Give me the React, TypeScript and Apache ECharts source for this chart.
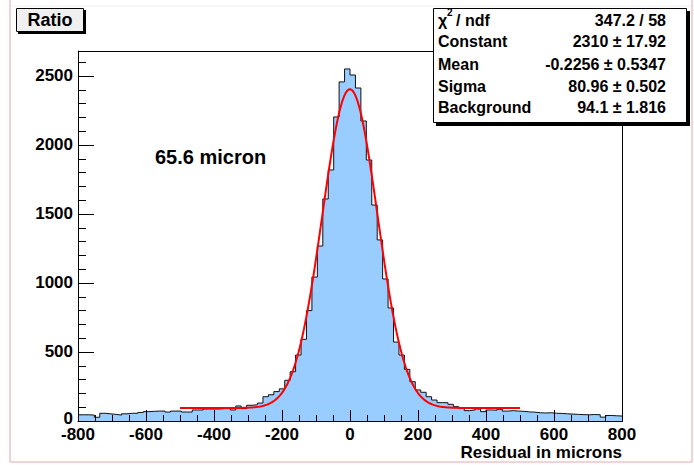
import React, { useEffect, useRef } from "react";
import * as echarts from "echarts";

// Histogram: 100 bins of width 16 from -800 to 800
const X_MIN = -800;
const X_MAX = 800;
const BIN_WIDTH = 16;
const counts: number[] = [
  45, 45, 43, 27, 56, 52, 48, 43, 52, 56,
  56, 62, 68, 70, 72, 72, 65, 72, 72, 65,
  65, 80, 80, 87, 87, 87, 90, 90, 80, 109,
  90, 114, 118, 130, 176, 190, 213, 233, 295, 357,
  478, 592, 800, 1043, 1268, 1609, 1819, 2203, 2457, 2551,
  2507, 2413, 2174, 1891, 1565, 1312, 1029, 819, 572, 478,
  374, 285, 225, 208, 176, 152, 133, 133, 121, 104,
  92, 75, 80, 87, 68, 80, 78, 85, 72, 75,
  72, 70, 66, 64, 60, 58, 60, 56, 55, 52,
  50, 48, 46, 45, 47, 45, 28, 40, 38, 36,
];

// Fit (gaus + pol0) parameters shown in the stat box, fit range
const FIT_CONSTANT = 2310;
const FIT_MEAN = -0.2256;
const FIT_SIGMA = 80.96;
const FIT_BACKGROUND = 94.1;
const FIT_RANGE = [-500, 500];

const xTicks = [-800, -600, -400, -200, 0, 200, 400, 600, 800];
const yTicks = [0, 500, 1000, 1500, 2000, 2500];
const Y_MAX = 2681;

const statNames = ["Constant", "Mean", "Sigma", "Background"];
const statValues = ["2310 ± 17.92", "-0.2256 ± 0.5347", "80.96 ± 0.502", "94.1 ± 1.816"];
const chiText = "347.2 / 58";

const FONT = "'Liberation Sans', Arial, Helvetica, sans-serif";

export default function App() {
  const ref = useRef<HTMLDivElement>(null);
  useEffect(() => {
    if (!ref.current) return;
    const chart = echarts.init(ref.current, undefined, { renderer: "svg" });

    const histData: number[][] = counts.map((c, i) => [X_MIN + i * BIN_WIDTH, c]);
    histData.push([X_MAX, counts[counts.length - 1]]);

    const fitData: number[][] = [];
    for (let x = FIT_RANGE[0]; x <= FIT_RANGE[1]; x += 4) {
      const z = (x - FIT_MEAN) / FIT_SIGMA;
      fitData.push([x, FIT_CONSTANT * Math.exp(-0.5 * z * z) + FIT_BACKGROUND]);
    }

    const rowY = [41, 64, 86, 107];
    const statGraphics: any[] = [];
    statNames.forEach((n, i) => {
      statGraphics.push({
        type: "text", x: 438, y: rowY[i], z: 30,
        style: { text: n, font: `bold 16px ${FONT}`, fill: "#000", textAlign: "left", textVerticalAlign: "middle" },
      });
      statGraphics.push({
        type: "text", x: 666, y: rowY[i], z: 30,
        style: { text: statValues[i], font: `bold 16px ${FONT}`, fill: "#000", textAlign: "right", textVerticalAlign: "middle" },
      });
    });

    const option: any = {
      animation: false,
      backgroundColor: "#fff",
      grid: { left: 78, top: 51, width: 544, height: 370, show: false },
      xAxis: {
        type: "value", min: X_MIN, max: X_MAX, interval: 200, z: 5,
        axisLine: { show: true, onZero: false, lineStyle: { color: "#000", width: 1 } },
        axisTick: { show: true, inside: true, length: 11, lineStyle: { color: "#000", width: 1 } },
        minorTick: { show: true, splitNumber: 4, length: 6, lineStyle: { color: "#000", width: 1 } },
        splitLine: { show: false },
        axisLabel: {
          margin: 7, color: "#000", fontFamily: FONT, fontWeight: "bold", fontSize: 17, lineHeight: 12,
          formatter: (v: number) => (xTicks.indexOf(v) >= 0 ? String(v) : ""),
        },
      },
      yAxis: [
        {
          type: "value", min: 0, max: Y_MAX, interval: 500, z: 5,
          axisLine: { show: true, onZero: false, lineStyle: { color: "#000", width: 1 } },
          axisTick: { show: true, inside: true, length: 16, lineStyle: { color: "#000", width: 1 } },
          splitLine: { show: false },
          axisLabel: {
            margin: 5, color: "#000", fontFamily: FONT, fontWeight: "bold", fontSize: 17, lineHeight: 10,
            formatter: (v: number) => (v === 0 ? "{z|0}" : yTicks.indexOf(v) >= 0 ? String(v) : ""),
            rich: {
              z: { fontFamily: FONT, fontWeight: "bold", fontSize: 17, lineHeight: 10, color: "#000", padding: [0, 0, 5, 0] },
            },
          },
        },
        {
          type: "value", min: 0, max: Y_MAX, interval: 100, z: 5, position: "left",
          axisLine: { show: false, onZero: false },
          axisTick: { show: true, inside: true, length: 8, lineStyle: { color: "#000", width: 1 } },
          splitLine: { show: false },
          axisLabel: { show: false },
        },
      ],
      series: [
        {
          type: "line", step: "end", data: histData, symbol: "none", z: 2,
          lineStyle: { color: "#111", width: 1 },
          areaStyle: { color: "#99ccff", opacity: 1 },
        },
        {
          type: "line", data: fitData, symbol: "none", z: 3, smooth: false,
          lineStyle: { color: "#ff0000", width: 2 },
        },
      ],
      graphic: [
        // canvas border lines
        { type: "line", z: 1, shape: { x1: 10, y1: 6, x2: 692, y2: 6 }, style: { stroke: "#f0f0f0", lineWidth: 1 } },
        { type: "line", z: 1, shape: { x1: 10, y1: 0, x2: 10, y2: 462 }, style: { stroke: "#e6a8a8", lineWidth: 1 } },
        { type: "line", z: 1, shape: { x1: 692, y1: 0, x2: 692, y2: 462 }, style: { stroke: "#e6a8a8", lineWidth: 1 } },
        { type: "line", z: 1, shape: { x1: 10, y1: 462, x2: 692, y2: 462 }, style: { stroke: "#e6a8a8", lineWidth: 1 } },
        // plot frame
        { type: "rect", z: 10, shape: { x: 78.5, y: 51.5, width: 544, height: 370 }, style: { fill: "none", stroke: "#000", lineWidth: 1 } },
        // title box
        { type: "rect", z: 20, shape: { x: 18, y: 10, width: 68, height: 24 }, style: { fill: "#000" } },
        { type: "rect", z: 21, shape: { x: 16.5, y: 8.5, width: 67, height: 23 }, style: { fill: "#f0f0f0", stroke: "#000", lineWidth: 1 } },
        { type: "text", z: 22, x: 50, y: 20, style: { text: "Ratio", font: `bold 18px ${FONT}`, fill: "#000", textAlign: "center", textVerticalAlign: "middle" } },
        // stat box
        { type: "rect", z: 25, shape: { x: 436, y: 11, width: 254, height: 115 }, style: { fill: "#000" } },
        { type: "rect", z: 26, shape: { x: 433.5, y: 8.5, width: 253, height: 114 }, style: { fill: "#fff", stroke: "#000", lineWidth: 1 } },
        { type: "text", z: 30, x: 438, y: 20, style: { text: "χ", font: `bold 16px ${FONT}`, fill: "#000", textAlign: "left", textVerticalAlign: "middle" } },
        { type: "text", z: 30, x: 447, y: 12, style: { text: "2", font: `bold 10px ${FONT}`, fill: "#000", textAlign: "left", textVerticalAlign: "middle" } },
        { type: "text", z: 30, x: 456, y: 20, style: { text: "/ ndf", font: `bold 16px ${FONT}`, fill: "#000", textAlign: "left", textVerticalAlign: "middle" } },
        { type: "text", z: 30, x: 666, y: 20, style: { text: chiText, font: `bold 16px ${FONT}`, fill: "#000", textAlign: "right", textVerticalAlign: "middle" } },
        ...statGraphics,
        // annotation
        { type: "text", z: 30, x: 155, y: 157, style: { text: "65.6 micron", font: `bold 20px ${FONT}`, fill: "#000", textAlign: "left", textVerticalAlign: "middle" } },
        // x axis title
        { type: "text", z: 30, x: 622, y: 452, style: { text: "Residual in microns", font: `bold 17px ${FONT}`, lineHeight: 12, fill: "#000", textAlign: "right", textVerticalAlign: "middle" } },
      ],
    };
    chart.setOption(option);
    return () => chart.dispose();
  }, []);
  return <div ref={ref} style={{ position: "fixed", left: 0, top: 0, width: 694, height: 465 }} />;
}
